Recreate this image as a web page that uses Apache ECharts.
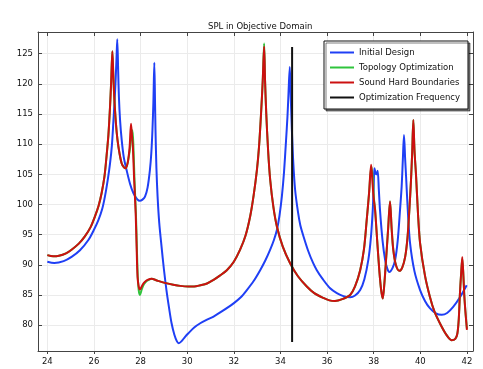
<!DOCTYPE html>
<html><head><meta charset="utf-8">
<script src="https://cdn.jsdelivr.net/npm/echarts@6/dist/echarts.min.js"></script>
<style>html,body{margin:0;padding:0;background:#fff}#c{width:483px;height:369px}</style>
</head><body><div id="c"></div>
<script>
var titleText = 'SPL in Objective Domain';
var seriesNames = ['Initial Design', 'Topology Optimization', 'Sound Hard Boundaries', 'Optimization Frequency'];
var xTicks = [24, 26, 28, 30, 32, 34, 36, 38, 40, 42];
var yTicks = [80, 85, 90, 95, 100, 105, 110, 115, 120, 125];

var initialX = [24.0,24.3,24.7,25.04,25.4,25.76,26.0,26.19,26.35,26.47,26.6,26.69,26.77,26.83,26.88,26.93,26.97,27.0,27.04,27.07,27.12,27.19,27.28,27.4,27.55,27.69,27.85,27.97,28.08,28.19,28.3,28.4,28.46,28.51,28.55,28.59,28.62,28.64,28.68,28.73,28.8,28.9,29.0,29.11,29.22,29.33,29.45,29.56,29.64,29.75,29.9,30.04,30.3,30.56,30.85,31.13,31.5,31.99,32.3,32.56,32.85,33.13,33.35,33.56,33.72,33.85,33.96,34.06,34.15,34.24,34.3,34.34,34.4,34.44,34.49,34.55,34.63,34.75,34.85,34.99,35.2,35.4,35.56,35.8,36.13,36.42,36.7,36.99,37.2,37.42,37.6,37.77,37.88,37.96,38.0,38.03,38.08,38.12,38.17,38.22,38.27,38.38,38.49,38.58,38.67,38.8,38.92,39.03,39.13,39.2,39.25,39.3,39.35,39.39,39.47,39.56,39.75,39.99,40.2,40.41,40.65,40.92,41.15,41.41,41.7,41.99];
var initialY = [90.5,90.3,90.6,91.3,92.4,94.1,95.8,97.4,99.2,101.3,104.3,106.8,109.8,113.5,116.8,120.7,124.5,127.4,122.0,117.9,114.0,110.7,107.8,105.7,103.4,101.9,100.9,100.6,100.8,101.3,102.8,105.7,108.5,112.4,117.0,123.5,117.0,112.4,106.0,101.3,97.0,93.0,89.3,85.8,82.9,80.3,78.4,77.3,77.0,77.3,78.0,78.6,79.6,80.3,80.9,81.4,82.3,83.6,84.6,85.8,87.3,89.1,90.7,92.5,94.1,95.8,98.2,101.3,105.2,110.6,114.5,117.9,122.8,118.0,112.4,107.0,102.4,98.8,96.6,94.7,92.2,90.3,89.1,87.7,86.1,85.3,84.8,84.6,84.9,85.8,87.6,90.8,94.5,99.1,103.0,106.0,105.2,105.0,105.6,102.5,99.1,94.0,90.8,89.4,88.8,89.4,90.8,94.0,99.1,103.0,107.4,111.5,107.5,104.6,98.5,93.6,88.9,85.8,84.0,82.8,82.0,81.7,82.0,83.0,84.6,86.6];

var hardX = [24.0,24.25,24.5,24.8,25.04,25.35,25.61,25.85,26.04,26.2,26.33,26.45,26.54,26.62,26.69,26.74,26.79,26.83,26.87,26.94,27.01,27.1,27.19,27.28,27.36,27.42,27.47,27.53,27.59,27.64,27.67,27.72,27.79,27.83,27.87,27.92,27.97,28.05,28.12,28.19,28.3,28.47,28.7,29.04,29.4,29.7,30.04,30.3,30.56,30.85,31.13,31.4,31.7,32.0,32.27,32.5,32.7,32.85,32.99,33.08,33.17,33.24,33.3,33.34,33.39,33.47,33.56,33.7,33.85,34.1,34.42,34.75,35.13,35.45,35.84,36.1,36.34,36.65,36.99,37.2,37.42,37.58,37.7,37.8,37.89,37.95,38.0,38.06,38.15,38.24,38.32,38.39,38.46,38.53,38.62,38.7,38.77,38.84,38.95,39.1,39.22,39.35,39.45,39.53,39.6,39.65,39.7,39.75,39.82,39.9,39.99,40.2,40.41,40.6,40.84,41.1,41.34,41.5,41.59,41.65,41.7,41.75,41.8,41.85,41.89,41.95,42.0];
var hardY = [91.6,91.4,91.5,91.9,92.5,93.5,94.7,96.2,98.0,99.8,101.9,104.6,108.0,111.5,116.2,120.5,125.4,121.5,117.9,113.6,110.7,108.4,106.8,106.2,106.0,106.5,107.4,109.5,113.4,111.0,109.6,104.5,98.5,93.0,88.0,86.4,85.9,86.4,86.9,87.2,87.5,87.7,87.4,87.0,86.7,86.5,86.4,86.4,86.6,86.9,87.5,88.2,89.1,90.5,92.5,94.8,98.0,101.5,105.7,109.5,115.2,120.5,126.2,120.5,115.2,109.0,104.1,99.5,96.3,93.0,90.2,88.1,86.4,85.3,84.5,84.1,84.0,84.3,85.0,86.4,89.1,92.5,97.4,101.8,106.6,103.5,101.0,99.1,94.0,89.1,85.8,84.4,87.0,90.8,96.0,100.5,96.0,92.5,90.0,89.0,89.5,91.3,94.5,99.1,104.0,108.5,114.0,109.0,104.6,98.5,93.6,88.2,84.7,82.3,80.3,78.5,77.5,77.7,78.6,81.0,85.3,88.5,91.3,88.0,84.7,81.5,79.2];

var topoX = [24.0,24.25,24.5,24.8,25.04,25.35,25.61,25.85,26.04,26.2,26.33,26.45,26.54,26.62,26.69,26.74,26.79,26.83,26.87,26.94,27.01,27.1,27.19,27.28,27.36,27.42,27.47,27.53,27.6,27.65,27.69,27.74,27.8,27.84,27.88,27.92,27.97,28.05,28.12,28.19,28.3,28.47,28.7,29.04,29.4,29.7,30.04,30.3,30.56,30.85,31.13,31.4,31.7,32.0,32.27,32.5,32.7,32.85,32.99,33.08,33.17,33.24,33.3,33.34,33.39,33.47,33.56,33.7,33.85,34.1,34.42,34.75,35.13,35.45,35.84,36.1,36.34,36.65,36.99,37.2,37.42,37.58,37.7,37.8,37.9,37.96,38.01,38.06,38.15,38.24,38.32,38.39,38.46,38.53,38.62,38.7,38.77,38.84,38.95,39.1,39.22,39.35,39.45,39.53,39.6,39.65,39.7,39.75,39.82,39.9,39.99,40.2,40.41,40.6,40.84,41.1,41.34,41.5,41.59,41.65,41.7,41.75,41.8,41.85,41.89,41.95,42.0];
var topoY = [91.6,91.4,91.5,91.9,92.5,93.5,94.7,96.2,98.0,99.8,101.9,104.6,108.0,111.5,116.2,120.5,125.4,121.5,117.9,113.6,110.7,108.4,106.8,106.2,106.0,106.5,107.4,108.8,111.0,112.3,110.0,104.0,98.5,93.0,88.0,85.8,85.0,85.9,86.6,87.0,87.4,87.7,87.4,87.0,86.7,86.5,86.4,86.4,86.6,86.9,87.5,88.2,89.1,90.5,92.5,94.8,98.0,101.5,105.7,109.5,115.2,120.5,126.7,120.5,115.2,109.0,104.1,99.5,96.3,93.0,90.2,88.1,86.4,85.3,84.5,84.1,84.0,84.3,85.0,86.4,89.1,92.5,97.4,101.8,106.3,104.5,101.0,99.1,94.0,89.1,85.8,84.4,87.0,90.8,96.0,100.5,96.0,92.5,90.0,89.0,89.5,91.3,94.5,99.1,104.0,108.5,114.0,109.0,104.6,98.5,93.6,88.2,84.7,82.3,80.3,78.5,77.5,77.7,78.6,81.0,85.3,88.5,91.0,88.0,84.7,81.5,79.4];

var optFreqX = [34.5, 34.5];
var optFreqY = [77.2, 126.1];

function pairs(xs, ys) { return xs.map(function (x, i) { return [x, ys[i]]; }); }

var FONT = 'DejaVu Sans';
var chart = echarts.init(document.getElementById('c'), null, { renderer: 'canvas' });
var axisLineStyle = { color: '#444', width: 1 };
var gridColor = '#ebebeb';
chart.setOption({
  animation: false,
  backgroundColor: '#fff',
  title: {
    text: titleText, left: 203, top: 17,
    textStyle: { fontFamily: FONT, fontSize: 8.5, fontWeight: 'normal', color: '#111' }
  },
  legend: {
    orient: 'vertical', left: 324, top: 41,
    data: seriesNames,
    backgroundColor: '#fff', borderColor: '#111', borderWidth: 1, borderRadius: 0,
    padding: [7, 8, 7, 6], itemGap: 6, itemWidth: 24, itemHeight: 2, icon: 'rect',
    shadowColor: 'rgba(0,0,0,0.5)', shadowOffsetX: 2, shadowOffsetY: 2, shadowBlur: 0,
    textStyle: { fontFamily: FONT, fontSize: 8.5, color: '#111', padding: [0, 0, 0, 0] }
  },
  grid: { left: 38, right: 10, top: 32, bottom: 18, containLabel: false },
  xAxis: [{
    type: 'value', min: 23.6, max: 42.26, position: 'bottom',
    axisLine: { show: true, onZero: false, lineStyle: axisLineStyle },
    axisTick: { show: true, inside: false, length: 3, customValues: xTicks, lineStyle: axisLineStyle },
    axisLabel: { customValues: xTicks, fontFamily: FONT, fontSize: 8.5, color: '#111', margin: 6 },
    splitLine: { show: true, lineStyle: { color: gridColor, width: 1 } }
  }, {
    type: 'value', min: 23.6, max: 42.26, position: 'top',
    axisLine: { show: true, onZero: false, lineStyle: axisLineStyle },
    axisTick: { show: true, inside: true, length: 4, customValues: xTicks, lineStyle: axisLineStyle },
    axisLabel: { show: false }, splitLine: { show: false }
  }],
  yAxis: [{
    type: 'value', min: 75.7, max: 128.6, position: 'left',
    axisLine: { show: true, onZero: false, lineStyle: axisLineStyle },
    axisTick: { show: true, inside: true, length: 4, customValues: yTicks, lineStyle: axisLineStyle },
    axisLabel: { customValues: yTicks, fontFamily: FONT, fontSize: 8.5, color: '#111', margin: 5 },
    splitLine: { show: true, lineStyle: { color: gridColor, width: 1 } }
  }, {
    type: 'value', min: 75.7, max: 128.6, position: 'right',
    axisLine: { show: true, onZero: false, lineStyle: axisLineStyle },
    axisTick: { show: true, inside: true, length: 4, customValues: yTicks, lineStyle: axisLineStyle },
    axisLabel: { show: false }, splitLine: { show: false }
  }],
  series: [
    { name: seriesNames[0], type: 'line', data: pairs(initialX, initialY), showSymbol: false, symbol: 'none', smooth: 0.3, lineStyle: { color: '#1f3ff5', width: 2 }, itemStyle: { color: '#1f3ff5' }, z: 2 },
    { name: seriesNames[1], type: 'line', data: pairs(topoX, topoY), showSymbol: false, symbol: 'none', smooth: 0.3, lineStyle: { color: '#2fc43c', width: 2 }, itemStyle: { color: '#2fc43c' }, z: 3 },
    { name: seriesNames[2], type: 'line', data: pairs(hardX, hardY), showSymbol: false, symbol: 'none', smooth: 0.3, lineStyle: { color: '#cc1010', width: 2 }, itemStyle: { color: '#cc1010' }, z: 4 },
    { name: seriesNames[3], type: 'line', data: pairs(optFreqX, optFreqY), showSymbol: false, symbol: 'none', lineStyle: { color: '#111', width: 2 }, itemStyle: { color: '#111' }, z: 5 }
  ]
});
</script></body></html>
